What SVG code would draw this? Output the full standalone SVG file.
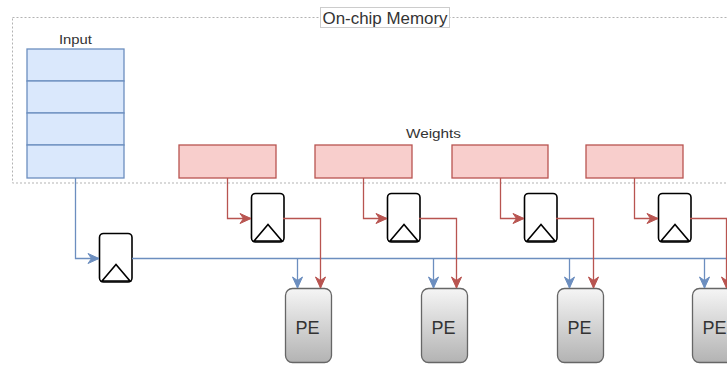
<svg xmlns="http://www.w3.org/2000/svg" width="727" height="365" viewBox="0 0 727 365">
<style>
  text { font-family: "Liberation Sans", Arial, sans-serif; fill: #333333; }
  .mem { fill: none; stroke: #b3b3b3; stroke-width: 1; stroke-dasharray: 2 2; }
  .inp { fill: #dae8fc; stroke: #6c8ebf; stroke-width: 1.3; }
  .wt { fill: #f8cecc; stroke: #b85450; stroke-width: 1.3; }
  .ff { fill: #ffffff; stroke: #000000; stroke-width: 1.6; }
  .tri { fill: none; stroke: #000000; stroke-width: 1.6; stroke-linejoin: miter; }
  .pe { fill: url(#peg); stroke: #666666; stroke-width: 1.3; }
  .pet { font-size: 18px; text-anchor: middle; }
  .bl { fill: none; stroke: #6c8ebf; stroke-width: 1.3; }
  .rd { fill: none; stroke: #b85450; stroke-width: 1.3; }
</style>
<defs>
  <linearGradient id="peg" x1="0" y1="0" x2="0" y2="1">
    <stop offset="0" stop-color="#f5f5f5"/>
    <stop offset="1" stop-color="#b3b3b3"/>
  </linearGradient>
  <marker id="ab" markerUnits="userSpaceOnUse" markerWidth="14" markerHeight="12" refX="12" refY="6" orient="auto">
    <path d="M1,1 L12,6 L1,11 L4.5,6 Z" fill="#6c8ebf" stroke="#6c8ebf" stroke-width="1"/>
  </marker>
  <marker id="ar" markerUnits="userSpaceOnUse" markerWidth="14" markerHeight="12" refX="12" refY="6" orient="auto">
    <path d="M1,1 L12,6 L1,11 L4.5,6 Z" fill="#b85450" stroke="#b85450" stroke-width="1"/>
  </marker>
</defs>

<g id="memory">
  <rect class="mem" x="12.5" y="17.5" width="730" height="165.5"/>
  <rect x="320.5" y="7.5" width="129" height="20" fill="#ffffff" stroke="#cccccc" stroke-width="1"/>
  <text x="385" y="23.5" font-size="16" text-anchor="middle" textLength="125" lengthAdjust="spacingAndGlyphs">On-chip Memory</text>
</g>

<g id="input">
  <text x="75.5" y="43.5" font-size="13" text-anchor="middle" textLength="33" lengthAdjust="spacingAndGlyphs">Input</text>
  <rect class="inp" x="27" y="49" width="97" height="32"/>
  <rect class="inp" x="27" y="81" width="97" height="32"/>
  <rect class="inp" x="27" y="113" width="97" height="32"/>
  <rect class="inp" x="27" y="145" width="97" height="33"/>
</g>

<g id="weights-label">
  <text x="433.5" y="138" font-size="13" text-anchor="middle" textLength="55" lengthAdjust="spacingAndGlyphs">Weights</text>
</g>
<g id="w1"><rect class="wt" x="179" y="145" width="97" height="33"/></g>
<g id="w2"><rect class="wt" x="315" y="145" width="97" height="33"/></g>
<g id="w3"><rect class="wt" x="452" y="145" width="96" height="33"/></g>
<g id="w4"><rect class="wt" x="586" y="145" width="97" height="33"/></g>

<g id="ff-in">
  <rect class="ff" x="99.5" y="233.5" width="32.5" height="48.5" rx="4"/>
  <path class="tri" d="M102,281 L116,264.5 L130,281 Z"/>
</g>
<g id="ff1">
  <rect class="ff" x="251.5" y="193.5" width="32.5" height="48.5" rx="4"/>
  <path class="tri" d="M254,241 L268,224.5 L282,241 Z"/>
</g>
<g id="ff2">
  <rect class="ff" x="387.5" y="193.5" width="32.5" height="48.5" rx="4"/>
  <path class="tri" d="M390,241 L404,224.5 L418,241 Z"/>
</g>
<g id="ff3">
  <rect class="ff" x="524.5" y="193.5" width="32.5" height="48.5" rx="4"/>
  <path class="tri" d="M527,241 L541,224.5 L555,241 Z"/>
</g>
<g id="ff4">
  <rect class="ff" x="658.5" y="193.5" width="32.5" height="48.5" rx="4"/>
  <path class="tri" d="M661,241 L675,224.5 L689,241 Z"/>
</g>

<g id="pe1">
  <rect class="pe" x="285.5" y="288.5" width="46" height="74" rx="7"/>
  <text class="pet" x="307.5" y="333.5">PE</text>
</g>
<g id="pe2">
  <rect class="pe" x="421.5" y="288.5" width="46" height="74" rx="7"/>
  <text class="pet" x="443.5" y="333.5">PE</text>
</g>
<g id="pe3">
  <rect class="pe" x="557.5" y="288.5" width="46" height="74" rx="7"/>
  <text class="pet" x="579.5" y="333.5">PE</text>
</g>
<g id="pe4">
  <rect class="pe" x="692.5" y="288.5" width="46" height="74" rx="7"/>
  <text class="pet" x="714.5" y="333.5">PE</text>
</g>

<g id="connectors">
  <path class="bl" d="M75.5,178 L75.5,258.5 L99,258.5" marker-end="url(#ab)"/>
  <path class="bl" d="M132,258.5 L730,258.5"/>
  <path class="bl" d="M297.5,258.5 L297.5,288" marker-end="url(#ab)"/>
  <path class="bl" d="M433.5,258.5 L433.5,288" marker-end="url(#ab)"/>
  <path class="bl" d="M569.5,258.5 L569.5,288" marker-end="url(#ab)"/>
  <path class="bl" d="M704.5,258.5 L704.5,288" marker-end="url(#ab)"/>

  <path class="rd" d="M227.5,178 L227.5,218.5 L251,218.5" marker-end="url(#ar)"/>
  <path class="rd" d="M283,218.5 L320.5,218.5 L320.5,288" marker-end="url(#ar)"/>
  <path class="rd" d="M363.5,178 L363.5,218.5 L387,218.5" marker-end="url(#ar)"/>
  <path class="rd" d="M419,218.5 L456.5,218.5 L456.5,288" marker-end="url(#ar)"/>
  <path class="rd" d="M500.5,178 L500.5,218.5 L524,218.5" marker-end="url(#ar)"/>
  <path class="rd" d="M556,218.5 L593.5,218.5 L593.5,288" marker-end="url(#ar)"/>
  <path class="rd" d="M634.5,178 L634.5,218.5 L658,218.5" marker-end="url(#ar)"/>
  <path class="rd" d="M690,218.5 L726.5,218.5 L726.5,288" marker-end="url(#ar)"/>
</g>
</svg>
